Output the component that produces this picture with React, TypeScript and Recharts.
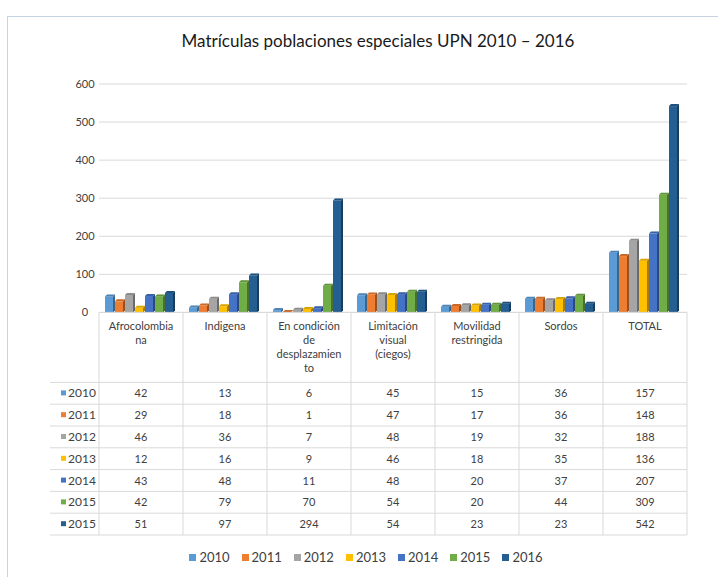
import { BarChart, Bar, XAxis, YAxis, CartesianGrid, Legend } from 'recharts';

// categorías y etiquetas de la tabla
const categories = ['Afrocolombiana', 'Indigena', 'En condición de desplazamiento', 'Limitación visual (ciegos)', 'Movilidad restringida', 'Sordos', 'TOTAL'];
const tickLines = [
  ['Afrocolombia', 'na'],
  ['Indigena'],
  ['En condición', 'de', 'desplazamien', 'to'],
  ['Limitación', 'visual', '(ciegos)'],
  ['Movilidad', 'restringida'],
  ['Sordos'],
  ['TOTAL'],
];

const years = ['2010', '2011', '2012', '2013', '2014', '2015', '2016'];
// la tabla original repite "2015" en la última fila
const rowLabels = ['2010', '2011', '2012', '2013', '2014', '2015', '2015'];

const v2010 = [42, 13, 6, 45, 15, 36, 157];
const v2011 = [29, 18, 1, 47, 17, 36, 148];
const v2012 = [46, 36, 7, 48, 19, 32, 188];
const v2013 = [12, 16, 9, 46, 18, 35, 136];
const v2014 = [43, 48, 11, 48, 20, 37, 207];
const v2015 = [42, 79, 70, 54, 20, 44, 309];
const v2016 = [51, 97, 294, 54, 23, 23, 542];
const series = [v2010, v2011, v2012, v2013, v2014, v2015, v2016];

const colors = ['#5B9BD5', '#ED7D31', '#A5A5A5', '#FFC000', '#4472C4', '#70AD47', '#255E91'];
const yTicks = [0, 100, 200, 300, 400, 500, 600];

const data = categories.map((name, i) => {
  const row: Record<string, string | number> = { name };
  years.forEach((y, k) => { row[y] = series[k][i]; });
  return row;
});

const W = 718;
const H = 577;
const M = { top: 84, right: 31, left: 0, bottom: 0 };
const Y_W = 99;
const CELL_W = (W - M.left - M.right - Y_W) / categories.length;
const HEADER_H = 70;
const ROW_H = 21.8;
const TABLE_H = HEADER_H + ROW_H * rowLabels.length;
const GRID = '#d9d9d9';
const TXT = '#404040';

const Bar3D = (props: any) => {
  const { x, y, width, height, fill } = props;
  if (!height || height <= 0) return null;
  const d = 2;
  return (
    <g>
      <rect x={x} y={y} width={width - d} height={height} fill={fill} />
      <polygon points={`${x + width - d},${y} ${x + width},${y - d} ${x + width},${y + height - d} ${x + width - d},${y + height}`} fill={fill} />
      <polygon points={`${x + width - d},${y} ${x + width},${y - d} ${x + width},${y + height - d} ${x + width - d},${y + height}`} fill="#000" fillOpacity={0.35} />
      <polygon points={`${x},${y} ${x + d},${y - d} ${x + width},${y - d} ${x + width - d},${y}`} fill={fill} />
      <polygon points={`${x},${y} ${x + d},${y - d} ${x + width},${y - d} ${x + width - d},${y}`} fill="#000" fillOpacity={0.15} />
    </g>
  );
};

const YTick = (props: any) => {
  const { y, payload } = props;
  return (
    <text x={85} y={y + 4} textAnchor="middle" fontSize={11} fill={TXT}>{payload.value}</text>
  );
};

const TableTick = (props: any) => {
  const { x, y, payload } = props;
  const i = payload.index;
  const half = CELL_W / 2;
  const left = x - half;
  const right = x + half;
  return (
    <g>
      <line x1={left} x2={left} y1={y} y2={y + TABLE_H} stroke={GRID} />
      {i === categories.length - 1 && <line x1={right} x2={right} y1={y} y2={y + TABLE_H} stroke={GRID} />}
      {tickLines[i].map((l, k) => (
        <text key={k} x={x} y={y + 18 + k * 14} textAnchor="middle" fontSize={11} fill={TXT}>{l}</text>
      ))}
      {rowLabels.map((_, r) => (
        <g key={r}>
          <line x1={i === 0 ? 50 : left} x2={right} y1={y + HEADER_H + r * ROW_H} y2={y + HEADER_H + r * ROW_H} stroke={GRID} />
          <text x={x} y={y + HEADER_H + r * ROW_H + 15} textAnchor="middle" fontSize={11} fill={TXT}>{series[r][i]}</text>
        </g>
      ))}
      <line x1={i === 0 ? 50 : left} x2={right} y1={y + TABLE_H} y2={y + TABLE_H} stroke={GRID} />
      {i === 0 && rowLabels.map((lab, r) => (
        <g key={'l' + r}>
          <rect x={left - 38} y={y + HEADER_H + r * ROW_H + 8} width={5} height={5} fill={colors[r]} />
          <text x={left - 31} y={y + HEADER_H + r * ROW_H + 15} fontSize={12} fill={TXT}>{lab}</text>
        </g>
      ))}
    </g>
  );
};

const LegendContent = () => (
  <div style={{ height: 40, display: 'flex', alignItems: 'center', justifyContent: 'center', paddingLeft: 57, boxSizing: 'border-box' }}>
    {years.map((y, k) => (
      <span key={y} style={{ display: 'inline-flex', alignItems: 'center', marginRight: 12, fontSize: 13, color: TXT }}>
        <span style={{ width: 7, height: 7, background: colors[k], marginRight: 3, display: 'inline-block' }} />
        {y}
      </span>
    ))}
  </div>
);

export default function App() {
  return (
    <div style={{ position: 'absolute', left: 0, top: 0, width: W, height: H, background: '#fff', fontFamily: 'Lato, sans-serif', overflow: 'hidden' }}>
      <div style={{ position: 'absolute', left: 7, top: 16, width: W, height: H, border: '1px solid #c5d3e0' }} />
      <div style={{ position: 'absolute', left: 0, top: 30, width: 756, textAlign: 'center', fontSize: 17, color: '#1a1a1a' }}>
        Matrículas poblaciones especiales UPN 2010 – 2016
      </div>
      <BarChart width={W} height={H} data={data} margin={M} barCategoryGap={6} barGap={0} style={{ position: 'absolute', left: 0, top: 0 }}>
        <CartesianGrid vertical={false} stroke={GRID} />
        <XAxis dataKey="name" height={TABLE_H + 2} tickLine={false} tickSize={0} tickMargin={0} axisLine={{ stroke: GRID }} tick={<TableTick />} interval={0} />
        <YAxis width={Y_W} domain={[0, 600]} ticks={yTicks} axisLine={false} tickLine={false} tick={<YTick />} />
        <Legend verticalAlign="bottom" content={<LegendContent />} />
        {years.map((y, k) => (
          <Bar key={y} dataKey={y} fill={colors[k]} shape={<Bar3D />} isAnimationActive={false} />
        ))}
      </BarChart>
    </div>
  );
}
